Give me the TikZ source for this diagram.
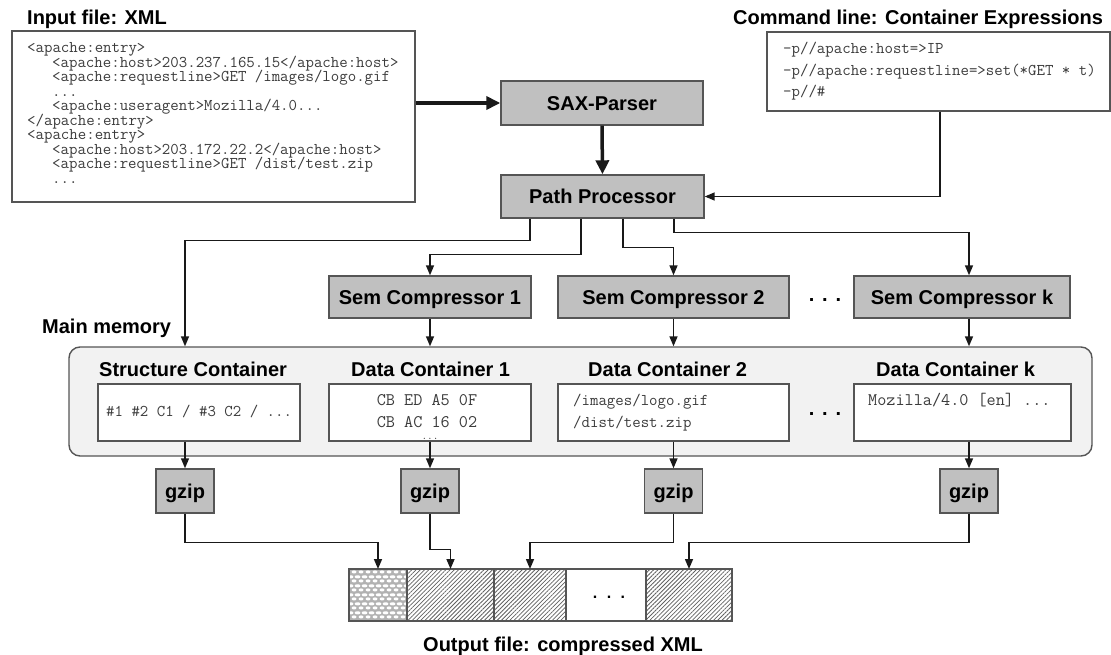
\documentclass[tikz,border=0pt]{standalone}
\usepackage{fontspec}
\setmainfont{Liberation Sans}
\usetikzlibrary{arrows.meta,patterns,patterns.meta,calc}

\definecolor{boxgray}{RGB}{192,192,192}
\definecolor{memgray}{RGB}{242,242,242}
\definecolor{edge}{RGB}{85,85,85}
\definecolor{codegray}{RGB}{60,60,60}
\definecolor{wire}{RGB}{25,25,25}

% white oval cells on a grey ground, used for the structure part of the output file
\pgfdeclarepattern{
  name=cells, type=uncolored,
  bottom left={\pgfpoint{0pt}{0pt}},
  top right={\pgfpoint{6.5pt}{9pt}},
  tile size={\pgfpoint{6.5pt}{9pt}},
  code={
    \pgfpathellipse{\pgfpoint{3.25pt}{2.25pt}}{\pgfpoint{2.6pt}{0pt}}{\pgfpoint{0pt}{1.7pt}}
    \pgfpathellipse{\pgfpoint{0pt}{6.75pt}}{\pgfpoint{2.6pt}{0pt}}{\pgfpoint{0pt}{1.7pt}}
    \pgfpathellipse{\pgfpoint{6.5pt}{6.75pt}}{\pgfpoint{2.6pt}{0pt}}{\pgfpoint{0pt}{1.7pt}}
    \pgfusepath{fill}
  }
}

\tikzset{
  lbl/.style={font=\fontsize{20}{24}\selectfont\bfseries, inner sep=0pt},
  proc/.style={draw=edge, line width=1.4pt, fill=boxgray, inner sep=0pt,
    font=\fontsize{20}{24}\selectfont\bfseries, text height=14.3pt, text depth=0pt},
  txtbox/.style={draw=edge, line width=1.4pt, fill=white, inner sep=0pt},
  code/.style={font=\fontsize{16.4}{16.5}\selectfont\ttfamily, text=codegray, inner sep=0pt, anchor=base west},
  codec/.style={code, anchor=base},
  bigcode/.style={code, font=\fontsize{17.7}{18}\selectfont\ttfamily},
  link/.style={line width=1.5pt, draw=wire, -{Triangle[length=10pt,width=8pt]}},
  heavy/.style={line width=3.5pt, draw=wire, -{Triangle[length=14pt,width=13pt]}},
  strip/.style={draw=edge, line width=1.3pt, inner sep=0pt, outer sep=0pt, minimum height=52pt},
  hatch/.style={pattern={Lines[angle=45,distance=3pt,line width=0.8pt]}, pattern color=black!62},
  dots/.style={font=\fontsize{20}{24}\selectfont\bfseries, inner sep=0pt}
}

\begin{document}
\begin{tikzpicture}[x=1pt,y=-1pt]
\useasboundingbox (0,0) rectangle (1111,655);

% ---------- input file ----------
\node[lbl, anchor=base west] (inlbl) at (27,25) {Input file: XML};
\node[txtbox, minimum width=403pt, minimum height=171pt] (inbox) at (213.5,116.5) {};
\node[code] (l1)  at (27,53)    {<apache:entry>};
\node[code] (l2)  at (52,67.5)  {<apache:host>203.237.165.15</apache:host>};
\node[code] (l3)  at (52,82)    {<apache:requestline>GET /images/logo.gif};
\node[code] (l4)  at (52,96.5)  {...};
\node[code] (l5)  at (52,111)   {<apache:useragent>Mozilla/4.0...};
\node[code] (l6)  at (27,125.5) {</apache:entry>};
\node[code] (l7)  at (27,140)   {<apache:entry>};
\node[code] (l8)  at (52,154.5) {<apache:host>203.172.22.2</apache:host>};
\node[code] (l9)  at (52,169)   {<apache:requestline>GET /dist/test.zip};
\node[code] (l10) at (52,183.5) {...};

% ---------- command line ----------
\node[lbl, anchor=base west] (cmdlbl) at (733,25) {Command line: Container Expressions};
\node[txtbox, minimum width=343pt, minimum height=79pt] (cmdbox) at (938.5,71.5) {};
\node[code] (c1) at (783,54) {-p//apache:host=>IP};
\node[code] (c2) at (783,75.5) {-p//apache:requestline=>set(*GET * t)};
\node[code] (c3) at (783,97) {-p//\#};

% ---------- parser and path processor ----------
\node[proc, minimum width=202pt, minimum height=44pt] (sax) at (602,103) {SAX-Parser};
\node[proc, minimum width=203pt, minimum height=43pt] (pp) at (602.5,196.5) {Path Processor};

% ---------- semantic compressors ----------
\node[proc, minimum width=202pt, minimum height=42pt] (sc1) at (430,297) {Sem Compressor 1};
\node[proc, minimum width=231pt, minimum height=42pt] (sc2) at (673.5,297) {Sem Compressor 2};
\node[proc, minimum width=216pt, minimum height=42pt] (sck) at (962,297) {Sem Compressor k};
\node[dots] (scdots) at (825,300) {.\hspace{7.8pt}.\hspace{7.8pt}.};

% ---------- main memory ----------
\node[lbl, anchor=base west] (memlbl) at (42,333) {Main memory};
\node[draw=edge, fill=memgray, line width=1.4pt, rounded corners=11pt,
      minimum width=1023pt, minimum height=109pt, inner sep=0pt] (mm) at (580.5,401.5) {};

\node[lbl, anchor=base west] (stlbl) at (99,376) {Structure Container};
\node[lbl, anchor=base west] (d1lbl) at (351,376) {Data Container 1};
\node[lbl, anchor=base west] (d2lbl) at (588,376) {Data Container 2};
\node[lbl, anchor=base west] (dklbl) at (876,376) {Data Container k};

\node[txtbox, minimum width=202pt, minimum height=57pt] (sbox) at (199,412.5) {};
\node[txtbox, minimum width=202pt, minimum height=57pt] (dc1) at (430,412.5) {};
\node[txtbox, minimum width=231pt, minimum height=57pt] (dc2) at (673.5,412.5) {};
\node[txtbox, minimum width=217pt, minimum height=57pt] (dck) at (962.5,412.5) {};
\node[dots] (dcdots) at (825,414) {.\hspace{7.8pt}.\hspace{7.8pt}.};

\node[code] (st1) at (106,416) {\#1 \#2 C1 / \#3 C2 / ...};
\node[bigcode, anchor=base] (d1a) at (427,405) {CB ED A5 0F};
\node[bigcode, anchor=base] (d1b) at (427,427) {CB AC 16 02};
\node[codec, font=\fontsize{11}{11}\selectfont\ttfamily] (d1c) at (430,439.5) {...};
\node[code] (d2a) at (573,405) {/images/logo.gif};
\node[code] (d2b) at (573,427) {/dist/test.zip};
\node[bigcode] (dka) at (868,405) {Mozilla/4.0 [en] ...};

% ---------- gzip stages ----------
\node[proc, minimum width=58pt, minimum height=44pt] (g1) at (185,491) {gzip};
\node[proc, minimum width=58pt, minimum height=44pt] (g2) at (430,491) {gzip};
\node[proc, minimum width=58pt, minimum height=44pt] (g3) at (673.5,491) {gzip};
\node[proc, minimum width=58pt, minimum height=44pt] (gk) at (969,491) {gzip};

% ---------- output file ----------
\node[strip, minimum width=58pt, preaction={fill=black!30}, pattern=cells, pattern color=white] (s1) at (378,595) {};
\node[strip, minimum width=87pt, hatch] (s2) at (450.5,595) {};
\node[strip, minimum width=72pt, hatch] (s3) at (530,595) {};
\node[strip, minimum width=80pt, fill=white] (s4) at (606,595) {};
\node[strip, minimum width=86pt, hatch] (s5) at (689,595) {};
\foreach \s in {s1,s2,s3,s4,s5} \draw[strip] (\s.south west) rectangle (\s.north east);
\node[font=\fontsize{16}{16}\selectfont\bfseries, inner sep=0pt] (s4dots) at (609,597) {.\hspace{9.5pt}.\hspace{9.5pt}.};
\node[lbl, anchor=base west] (outlbl) at (423,651) {Output file: compressed XML};

% ---------- column positions of the wires ----------
\coordinate (xs) at (185,0);
\coordinate (xk) at (969,0);
\coordinate (xc) at (940,0);
\coordinate (p1) at (530,0);
\coordinate (p2) at (581,0);
\coordinate (p3) at (623,0);
\coordinate (p4) at (674,0);

% ---------- connectors ----------
\draw[heavy] (inbox.east |- sax.west) -- (sax.west);
\draw[heavy] (sax.south) -- (pp.north);
\draw[link] (cmdbox.south -| xc) |- (pp.east);

\draw[link] (pp.south -| p1) -- ++(0,22) -| (mm.north -| xs);
\draw[link] (pp.south -| p2) -- ++(0,36) -| (sc1.north);
\draw[link] (pp.south -| p3) -- ++(0,29) -| (sc2.north);
\draw[link] (pp.south -| p4) -- ++(0,14) -| (sck.north -| xk);

\draw[link] (sc1.south) -- (mm.north -| sc1.south);
\draw[link] (sc2.south) -- (mm.north -| sc2.south);
\draw[link] (sck.south -| xk) -- (mm.north -| xk);

\draw[link] (sbox.south -| xs) -- (g1.north);
\draw[link] (dc1.south) -- (g2.north);
\draw[link] (dc2.south) -- (g3.north);
\draw[link] (dck.south -| xk) -- (gk.north);

\draw[link] (g1.south) -- ++(0,29) -| (s1.north);
\draw[link] (g2.south) -- ++(0,36) -| (s2.north);
\draw[link] (g3.south) -- ++(0,29) -| (s3.north);
\draw[link] (gk.south) -- ++(0,29) -| (s5.north);
\end{tikzpicture}
\end{document}
